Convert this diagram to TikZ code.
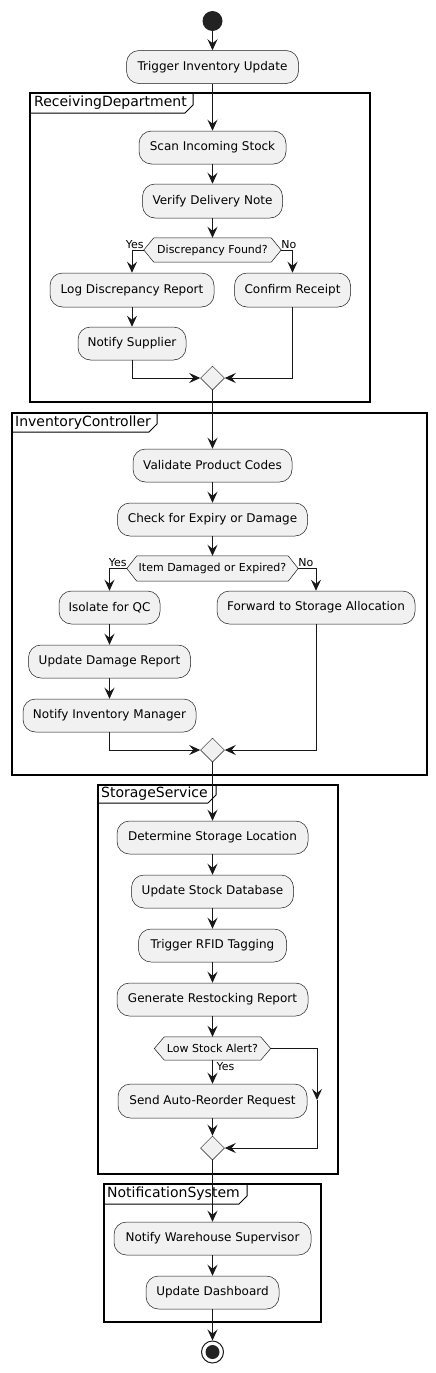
\documentclass[tikz,border=0pt]{standalone}
\usepackage{fontspec}
\setmainfont{DejaVu Sans}
\usetikzlibrary{arrows.meta,shapes.geometric}
\definecolor{boxfill}{HTML}{F1F1F1}
\definecolor{ln}{HTML}{181818}
\definecolor{startc}{HTML}{222222}
\tikzset{
  act/.style={draw=ln, fill=boxfill, rounded corners=12.5pt, line width=0.5pt,
    minimum height=33pt, inner sep=0pt, font=\fontsize{12}{14}\selectfont},
  hexnode/.style={inner sep=0pt, font=\fontsize{11}{13}\selectfont},
  hexline/.style={draw=ln, fill=boxfill, line width=0.5pt},
  merge/.style={diamond, draw=ln, fill=boxfill, line width=0.5pt, minimum width=24pt, minimum height=24pt, inner sep=0pt},
  lbl/.style={inner sep=0pt, font=\fontsize{11}{13}\selectfont},
  ftitle/.style={inner sep=0pt, anchor=west, font=\fontsize{14}{16}\selectfont},
  frameline/.style={draw=black, line width=1.4pt},
  tabline/.style={draw=black, line width=1pt},
  arr/.style={draw=ln, line width=1pt, -{Stealth[length=11pt,width=10pt,inset=4pt]}},
}
\newcommand\hexdraw[2]{%
  \path[hexline] (#1.west) -- ([xshift=#2]#1.north west) -- ([xshift=-#2]#1.north east)
    -- (#1.east) -- ([xshift=-#2]#1.south east) -- ([xshift=#2]#1.south west) -- cycle;}
\newcommand\frametab[6]{% left top right bottom tabright tabbottom
  \draw[frameline] (#1,#2) rectangle (#3,#4);
  \draw[tabline] (#1,#6) -- (#5-8,#6) -- (#5,#6-8) -- (#5,#2);}
\begin{document}
\begin{tikzpicture}[x=1pt,y=-1pt]
\useasboundingbox (0,0) rectangle (436,1373);
% frames
\frametab{30}{93}{370}{402}{193}{113}
\node[ftitle] (t1) at (34,103) {ReceivingDepartment};
\frametab{12}{413}{427}{775}{157}{432}
\node[ftitle] (t2) at (15,422.5) {InventoryController};
\frametab{98}{785}{338}{1174}{216}{803}
\node[ftitle] (t3) at (101,794) {StorageService};
\frametab{104}{1184}{321}{1322}{247}{1204}
\node[ftitle] (t4) at (107,1194) {NotificationSystem};

% start
\node[circle, fill=startc, minimum size=20pt, inner sep=0pt] (start) at (212.5,21) {};
\node[act, minimum width=172pt] (trig) at (212.5,67) {Trigger Inventory Update};

% Receiving
\node[act, minimum width=147pt] (scan) at (212.5,147.5) {Scan Incoming Stock};
\node[act, minimum width=140pt, minimum height=34pt] (verify) at (212.5,201) {Verify Delivery Note};
\node[hexnode, minimum width=137pt, minimum height=24pt] (d1) at (212.5,250) {};
\hexdraw{d1}{10pt}
\node[hexnode] at (d1) {Discrepancy Found?};
\node[act, minimum width=164pt, minimum height=34pt] (log) at (132,290) {Log Discrepancy Report};
\node[act, minimum width=116pt, minimum height=34pt] (conf) at (292.5,290) {Confirm Receipt};
\node[act, minimum width=108pt] (supp) at (132,343.5) {Notify Supplier};
\node[merge] (m1) at (212.5,378) {};
\node[lbl, anchor=base east] (y1) at ([yshift=2pt]d1.west) {Yes};
\node[lbl, anchor=base west] (n1) at ([yshift=2pt]d1.east) {No};

% Inventory controller
\node[act, minimum width=159pt] (valid) at (212.5,465.5) {Validate Product Codes};
\node[act, minimum width=190pt] (check) at (212.5,519.5) {Check for Expiry or Damage};
\node[hexnode, minimum width=171pt, minimum height=25pt] (d2) at (212.5,568.5) {};
\hexdraw{d2}{10pt}
\node[hexnode] at (d2) {Item Damaged or Expired?};
\node[lbl, anchor=base east] (y2) at ([yshift=2.5pt]d2.west) {Yes};
\node[lbl, anchor=base west] (n2) at ([yshift=2.5pt]d2.east) {No};
\node[act, minimum width=101pt] (iso) at (109.5,607.5) {Isolate for QC};
\node[act, minimum width=198pt] (fwd) at (316,607.5) {Forward to Storage Allocation};
\node[act, minimum width=162pt] (dmg) at (109.5,661.5) {Update Damage Report};
\node[act, minimum width=173pt] (mgr) at (109.5,715.5) {Notify Inventory Manager};
\node[merge] (m2) at (212.5,750) {};

% Storage
\node[act, minimum width=191pt] (loc) at (212.5,837.5) {Determine Storage Location};
\node[act, minimum width=162pt] (db) at (212.5,891.5) {Update Stock Database};
\node[act, minimum width=148pt] (rfid) at (212.5,945.5) {Trigger RFID Tagging};
\node[act, minimum width=191pt] (rest) at (212.5,999.5) {Generate Restocking Report};
\node[hexnode, minimum width=116pt, minimum height=23pt] (d3) at (212.5,1048.5) {};
\hexdraw{d3}{10pt}
\node[hexnode] at (d3) {Low Stock Alert?};
\node[lbl, anchor=base west] (y3) at ([xshift=4pt,yshift=-10pt]d3.south) {Yes};
\node[act, minimum width=189pt, minimum height=34pt] (reord) at (212.5,1101) {Send Auto-Reorder Request};
\node[merge] (m3) at (212.5,1148) {};
\coordinate (c3) at (317,1100);

% Notification
\node[act, minimum width=197pt] (sup) at (212.5,1238.5) {Notify Warehouse Supervisor};
\node[act, minimum width=133pt] (dash) at (212.5,1292.5) {Update Dashboard};
\node[circle, draw=ln, line width=1pt, minimum size=22pt, inner sep=0pt] (end) at (212.5,1352) {};
\node[circle, fill=startc, minimum size=14pt, inner sep=0pt] (endin) at (end) {};

% connectors
\draw[arr] (start) -- (trig);
\draw[arr] (trig) -- (scan);
\draw[arr] (scan) -- (verify);
\draw[arr] (verify) -- (d1.north);
\draw[arr] (d1.west) -| (log.north);
\draw[arr] (d1.east) -| (conf.north);
\draw[arr] (log) -- (supp);
\draw[arr] (supp.south) |- (m1.west);
\draw[arr] (conf.south) |- (m1.east);
\draw[arr] (m1.south) -- (valid.north);
\draw[arr] (valid) -- (check);
\draw[arr] (check) -- (d2.north);
\draw[arr] (d2.west) -| (iso.north);
\draw[arr] (d2.east) -| (fwd.north);
\draw[arr] (iso) -- (dmg);
\draw[arr] (dmg) -- (mgr);
\draw[arr] (mgr.south) |- (m2.west);
\draw[arr] (fwd.south) |- (m2.east);
\draw[arr] (m2.south) -- (loc.north);
\draw[arr] (loc) -- (db);
\draw[arr] (db) -- (rfid);
\draw[arr] (rfid) -- (rest);
\draw[arr] (rest) -- (d3.north);
\draw[arr] (d3.south) -- (reord.north);
\draw[arr] (d3.east) -| (c3);
\draw[arr] (c3) |- (m3.east);
\draw[arr] (reord) -- (m3.north);
\draw[arr] (m3.south) -- (sup.north);
\draw[arr] (sup) -- (dash);
\draw[arr] (dash) -- (end);
\end{tikzpicture}
\end{document}
